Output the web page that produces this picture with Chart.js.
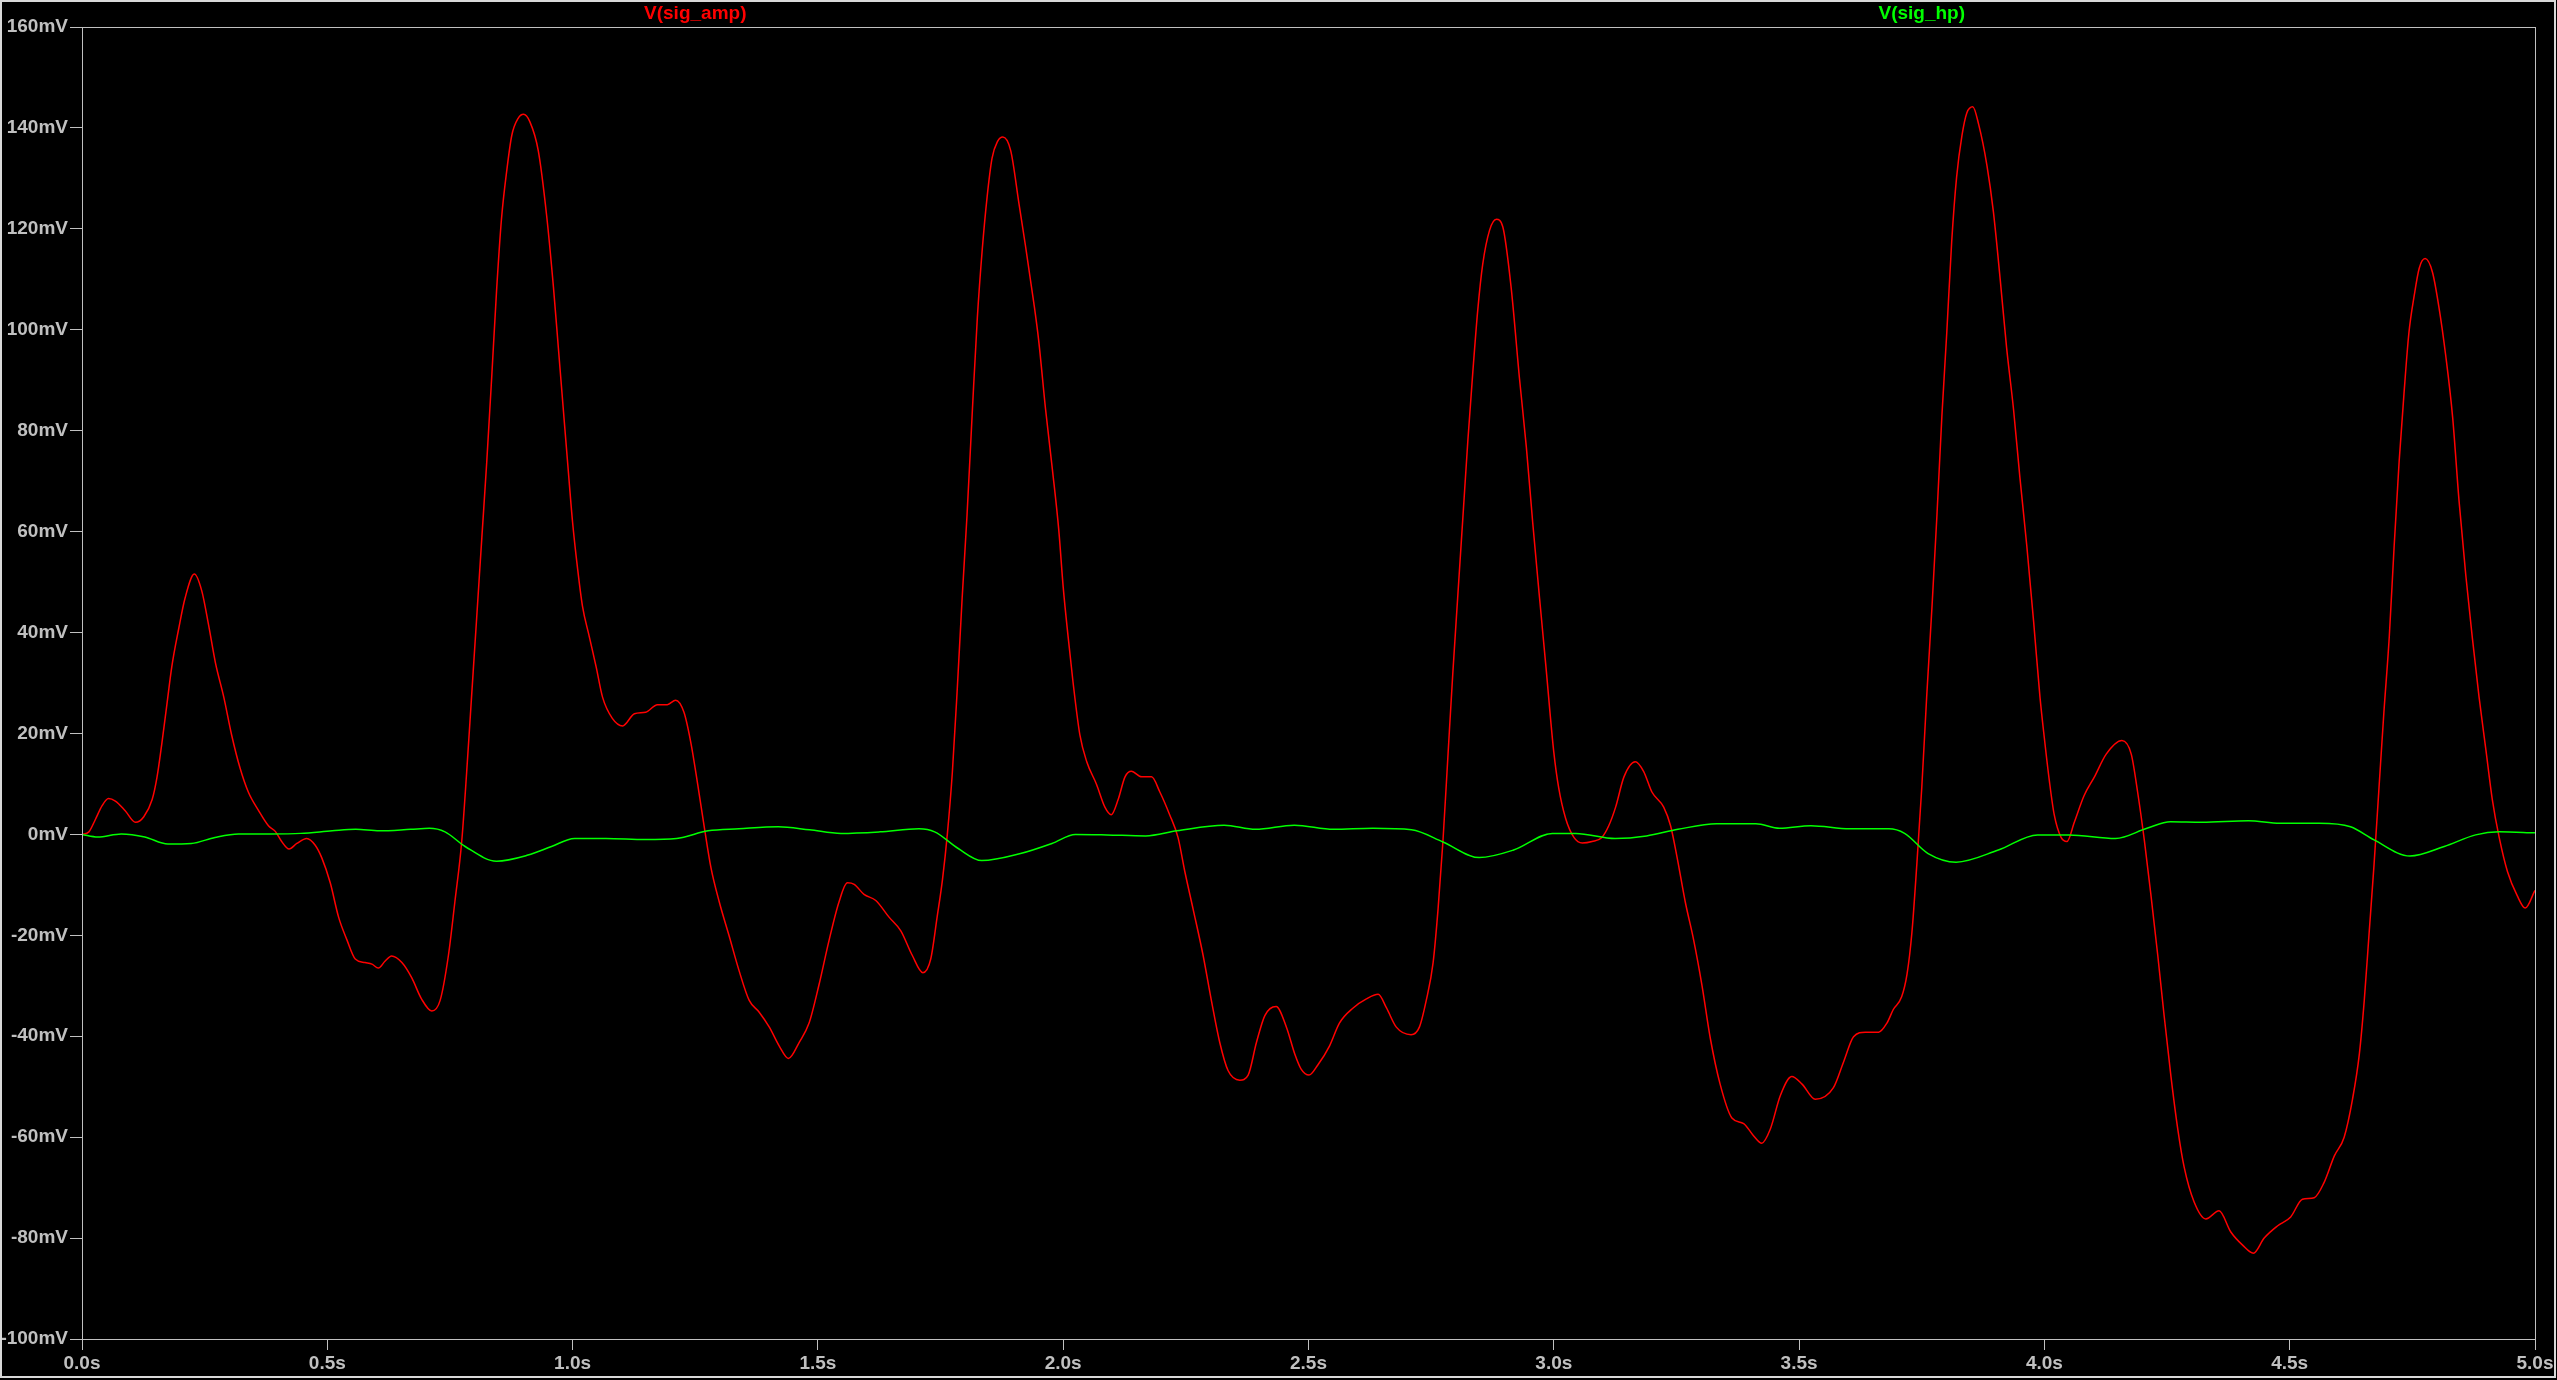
<!DOCTYPE html>
<html>
<head>
<meta charset="utf-8">
<script src="https://cdn.jsdelivr.net/npm/chart.js@4.4.1/dist/chart.umd.min.js"></script>
<style>
  html, body { margin: 0; padding: 0; background: #000; overflow: hidden; }
  canvas { display: block; }
</style>
</head>
<body>
<canvas id="plot" width="2557" height="1380"></canvas>
<script>
// V(sig_amp) (time in s, value in mV)
const ampTime = [
  0.000, 0.014, 0.027, 0.041, 0.054, 0.068, 0.088, 0.109, 0.126, 0.143, 0.153, 0.163, 0.173, 0.183, 0.197, 0.210,
  0.229, 0.244, 0.258, 0.272, 0.289, 0.305, 0.322, 0.339, 0.360, 0.380, 0.394, 0.407, 0.422, 0.438, 0.458, 0.475,
  0.489, 0.506, 0.523, 0.540, 0.557, 0.577, 0.591, 0.604, 0.618, 0.631, 0.652, 0.672, 0.692, 0.713, 0.730, 0.747,
  0.760, 0.774, 0.784, 0.794, 0.804, 0.815, 0.825, 0.835, 0.845, 0.855, 0.866, 0.876, 0.889, 0.900, 0.913, 0.930,
  0.947, 0.961, 0.971, 0.981, 0.991,
  1.000, 1.010, 1.020, 1.034, 1.048, 1.061, 1.081, 1.102, 1.126, 1.149, 1.173, 1.193, 1.210, 1.227, 1.241, 1.255,
  1.268, 1.282, 1.299, 1.319, 1.339, 1.360, 1.380, 1.401, 1.421, 1.440, 1.462, 1.482, 1.502, 1.523, 1.543, 1.560,
  1.574, 1.594, 1.618, 1.645, 1.669, 1.692, 1.714, 1.730, 1.743, 1.754, 1.764, 1.774, 1.784, 1.794, 1.804, 1.815,
  1.825, 1.835, 1.845, 1.855, 1.866, 1.877, 1.893, 1.910, 1.923, 1.940, 1.950, 1.964, 1.978, 1.991,
  2.000, 2.010, 2.020, 2.034, 2.048, 2.068, 2.085, 2.098, 2.112, 2.126, 2.139, 2.160, 2.180, 2.197, 2.217, 2.234,
  2.248, 2.265, 2.285, 2.302, 2.319, 2.336, 2.360, 2.377, 2.394, 2.411, 2.434, 2.455, 2.472, 2.485, 2.501, 2.519,
  2.543, 2.563, 2.591, 2.618, 2.642, 2.659, 2.679, 2.709, 2.726, 2.740, 2.754, 2.764, 2.774, 2.784, 2.794, 2.804,
  2.815, 2.825, 2.835, 2.845, 2.855, 2.869, 2.883, 2.896, 2.913, 2.930, 2.944, 2.957, 2.971, 2.984,
  3.000, 3.010, 3.024, 3.041, 3.058, 3.078, 3.098, 3.112, 3.126, 3.143, 3.166, 3.183, 3.200, 3.224, 3.238, 3.251,
  3.268, 3.285, 3.302, 3.319, 3.339, 3.363, 3.387, 3.407, 3.424, 3.441, 3.462, 3.485, 3.506, 3.533, 3.570, 3.591,
  3.611, 3.635, 3.662, 3.679, 3.692, 3.709, 3.720, 3.730, 3.740, 3.750, 3.760, 3.771, 3.781, 3.791, 3.801, 3.811,
  3.821, 3.832, 3.842, 3.854, 3.866, 3.883, 3.896, 3.910, 3.923, 3.937, 3.950, 3.964, 3.978, 3.991,
  4.000, 4.010, 4.020, 4.034, 4.046, 4.061, 4.081, 4.102, 4.126, 4.158, 4.177, 4.190, 4.204, 4.217, 4.231, 4.244,
  4.258, 4.272, 4.285, 4.305, 4.329, 4.356, 4.380, 4.404, 4.426, 4.448, 4.475, 4.502, 4.526, 4.550, 4.570, 4.591,
  4.611, 4.628, 4.642, 4.652, 4.662, 4.672, 4.682, 4.692, 4.703, 4.713, 4.723, 4.733, 4.743, 4.754, 4.764, 4.776,
  4.791, 4.804, 4.818, 4.832, 4.845, 4.859, 4.872, 4.886, 4.900, 4.913, 4.927, 4.944, 4.964, 4.980, 5.000
];
const ampMv = [
  0.0, 0.5, 2.9, 5.7, 7.1, 6.6, 4.7, 2.4, 3.5, 6.9, 11.4, 18.2, 25.7, 33.2, 40.7, 46.8,
  51.6, 48.3, 41.5, 34.0, 27.2, 19.7, 13.2, 8.4, 4.7, 1.7, 0.6, -1.4, -2.9, -1.8, -0.8, -2.1,
  -4.7, -9.6, -16.4, -20.9, -24.7, -25.4, -25.7, -26.5, -25.1, -24.1, -25.4, -28.4, -32.6, -35.0, -32.9, -23.9,
  -13.4, -1.4, 12.2, 27.2, 42.2, 58.8, 73.8, 90.4, 107.7, 121.9, 131.7, 138.5, 141.9, 142.7, 141.2, 135.5,
  122.7, 108.4, 96.4, 84.3, 72.3,
  61.8, 52.8, 45.3, 39.2, 33.2, 27.2, 23.0, 21.5, 23.9, 24.2, 25.7, 25.7, 26.6, 24.2, 18.2, 9.9,
  1.7, -6.6, -13.4, -20.1, -26.9, -32.9, -35.2, -38.2, -41.9, -44.4, -41.2, -37.4, -29.9, -20.9, -13.4, -9.6,
  -9.9, -11.9, -13.1, -16.4, -19.1, -23.9, -27.4, -24.7, -16.4, -8.9, 0.2, 12.2, 28.7, 46.8, 63.3, 84.3,
  102.4, 115.9, 126.4, 134.0, 137.3, 138.2, 135.5, 124.9, 116.7, 105.4, 97.9, 84.3, 72.3, 60.3,
  49.0, 39.2, 30.2, 19.7, 14.4, 9.9, 5.4, 3.9, 6.9, 11.4, 12.5, 11.4, 11.4, 8.4, 3.9, -0.6,
  -7.4, -14.9, -23.9, -32.9, -41.2, -46.8, -48.7, -47.7, -41.2, -35.9, -34.1, -38.2, -43.5, -46.5, -47.7, -45.7,
  -41.9, -37.4, -34.4, -32.6, -31.7, -34.4, -38.2, -39.7, -38.2, -32.9, -25.4, -14.9, -1.4, 15.2, 31.7, 46.8,
  63.3, 78.3, 91.7, 103.9, 112.9, 119.7, 121.9, 120.4, 108.4, 90.4, 76.8, 61.8, 46.8, 33.2,
  16.3, 9.2, 3.2, -0.6, -1.7, -1.4, -0.6, 1.7, 5.4, 11.4, 14.4, 12.5, 8.4, 5.4, 1.7, -4.4,
  -13.4, -20.9, -29.9, -40.4, -49.5, -56.2, -57.3, -59.7, -61.2, -58.5, -51.7, -48.0, -49.5, -52.5, -50.2, -45.0,
  -40.1, -39.2, -39.2, -37.4, -34.7, -32.2, -27.7, -19.4, -5.9, 9.2, 27.2, 45.3, 63.3, 82.8, 99.4, 117.4,
  130.2, 138.5, 143.0, 144.2, 140.7, 132.5, 123.4, 109.9, 96.4, 84.3, 70.8, 57.3, 42.2, 27.2,
  19.0, 10.7, 3.9, -0.6, -1.4, 2.4, 7.7, 11.4, 15.9, 18.6, 15.9, 8.4, -1.4, -11.9, -23.9, -35.9,
  -48.0, -58.5, -66.0, -72.8, -76.2, -74.6, -78.8, -81.4, -83.0, -80.0, -77.6, -75.8, -72.3, -72.0, -69.0, -63.7,
  -60.0, -52.5, -43.5, -32.9, -19.4, -5.9, 9.2, 24.2, 39.2, 57.3, 73.8, 87.4, 99.4, 106.9, 112.2, 114.1,
  111.4, 104.6, 94.9, 82.8, 66.3, 51.3, 39.2, 27.2, 16.7, 6.9, -0.6, -7.4, -12.2, -14.6, -11.1
];

// V(sig_hp)
const hpTime = [
  0.000, 0.032, 0.080, 0.128, 0.175, 0.223, 0.271, 0.319, 0.383, 0.446, 0.510, 0.558, 0.606, 0.670, 0.708, 0.740,
  0.781, 0.845, 0.909, 0.957, 1.004, 1.068, 1.148, 1.212, 1.276, 1.339, 1.419, 1.483, 1.547, 1.626, 1.706, 1.738,
  1.786, 1.834, 1.913, 1.977, 2.025, 2.089, 2.168, 2.232, 2.328, 2.392, 2.471, 2.551, 2.631, 2.710, 2.774, 2.848,
  2.918, 2.997, 3.045, 3.125, 3.189, 3.253, 3.332, 3.412, 3.460, 3.524, 3.603, 3.683, 3.715, 3.763, 3.820, 3.906,
  3.986, 4.050, 4.145, 4.209, 4.257, 4.321, 4.416, 4.480, 4.560, 4.624, 4.672, 4.745, 4.815, 4.879, 4.927, 5.000
];
const hpMv = [
  0.0, -0.5, 0.1, -0.5, -1.9, -1.8, -0.6, 0.1, 0.1, 0.2, 0.7, 1.0, 0.7, 1.0, 1.2, 0.5,
  -2.4, -5.3, -4.1, -2.4, -0.8, -0.8, -1.0, -0.8, 0.7, 1.1, 1.5, 0.9, 0.2, 0.5, 1.1, 0.5,
  -2.8, -5.2, -3.8, -1.8, 0.0, -0.1, -0.3, 0.7, 1.8, 1.0, 1.8, 1.0, 1.2, 0.9, -1.5, -4.6,
  -3.1, 0.2, 0.2, -0.8, -0.3, 1.0, 2.1, 2.1, 1.2, 1.7, 1.1, 1.1, 0.2, -3.8, -5.5, -3.1,
  -0.1, -0.1, -0.8, 1.2, 2.5, 2.4, 2.7, 2.2, 2.2, 1.5, -1.1, -4.3, -2.4, -0.1, 0.5, 0.3
];

const traceNames = ['V(sig_amp)', 'V(sig_hp)'];
const traceColors = ['#ff0000', '#00ff00'];

const axisGray = '#c0c0c0';
const labelFont = { family: '"Liberation Sans", Arial, sans-serif', size: 19, weight: 'bold' };

function toPoints(times, values) {
    var pts = [];
    var n = Math.min(times.length, values.length);
    for (var i = 0; i < n; i++) {
        pts.push({ x: times[i], y: values[i] });
    }
    return pts;
}

// black page, plot box and the trace names over the plot
const ltspiceLook = {
    id: 'ltspiceLook',
    beforeDraw(chart) {
        const ctx = chart.ctx;
        ctx.save();
        ctx.fillStyle = '#000';
        ctx.fillRect(0, 0, chart.width, chart.height);
        ctx.restore();
    },
    afterDraw(chart) {
        const ctx = chart.ctx;
        const a = chart.chartArea;
        ctx.save();
        ctx.strokeStyle = axisGray;
        ctx.lineWidth = 1;
        ctx.strokeRect(Math.round(a.left) + 0.5, Math.round(a.top) + 0.5,
            Math.round(a.right - a.left), Math.round(a.bottom - a.top));

        // outer window frame
        ctx.strokeStyle = '#d8d8d8';
        ctx.lineWidth = 2;
        ctx.strokeRect(1, 1, chart.width - 3, chart.height - 4);

        ctx.font = 'bold 19px "Liberation Sans", Arial, sans-serif';
        ctx.textAlign = 'center';
        ctx.textBaseline = 'middle';
        const w = a.right - a.left;
        ctx.fillStyle = traceColors[0];
        ctx.fillText(traceNames[0], a.left + w * 0.25, 14);
        ctx.fillStyle = traceColors[1];
        ctx.fillText(traceNames[1], a.left + w * 0.75, 14);
        ctx.restore();
    }
};

var ctx = document.getElementById('plot').getContext('2d');

new Chart(ctx, {
    type: 'line',
    data: {
        datasets: [
            {
                label: traceNames[0],
                data: toPoints(ampTime, ampMv),
                borderColor: traceColors[0],
                borderWidth: 1.5,
                pointRadius: 0,
                cubicInterpolationMode: 'monotone',
                order: 2
            },
            {
                label: traceNames[1],
                data: toPoints(hpTime, hpMv),
                borderColor: traceColors[1],
                borderWidth: 1.5,
                pointRadius: 0,
                cubicInterpolationMode: 'monotone',
                order: 1
            }
        ]
    },
    options: {
        responsive: false,
        animation: false,
        layout: { padding: { top: 27, right: 22, left: 0, bottom: 0 } },
        plugins: {
            legend: { display: false },
            tooltip: { enabled: false }
        },
        scales: {
            x: {
                type: 'linear',
                min: 0,
                max: 5,
                afterFit: function(scale) { scale.height = 41; },
                grid: { drawOnChartArea: false, drawTicks: true, tickLength: 11, color: axisGray },
                border: { display: true, color: axisGray },
                ticks: {
                    stepSize: 0.5,
                    color: axisGray,
                    font: labelFont,
                    padding: 2,
                    maxRotation: 0,
                    autoSkip: false,
                    callback: function(value) { return value.toFixed(1) + 's'; }
                }
            },
            y: {
                min: -100,
                max: 160,
                afterFit: function(scale) { scale.width = 82; },
                grid: { drawOnChartArea: false, drawTicks: true, tickLength: 12, color: axisGray },
                border: { display: true, color: axisGray },
                ticks: {
                    stepSize: 20,
                    color: axisGray,
                    font: labelFont,
                    padding: 2,
                    callback: function(value) { return value + 'mV'; }
                }
            }
        }
    },
    plugins: [ltspiceLook]
});
</script>
</body>
</html>
